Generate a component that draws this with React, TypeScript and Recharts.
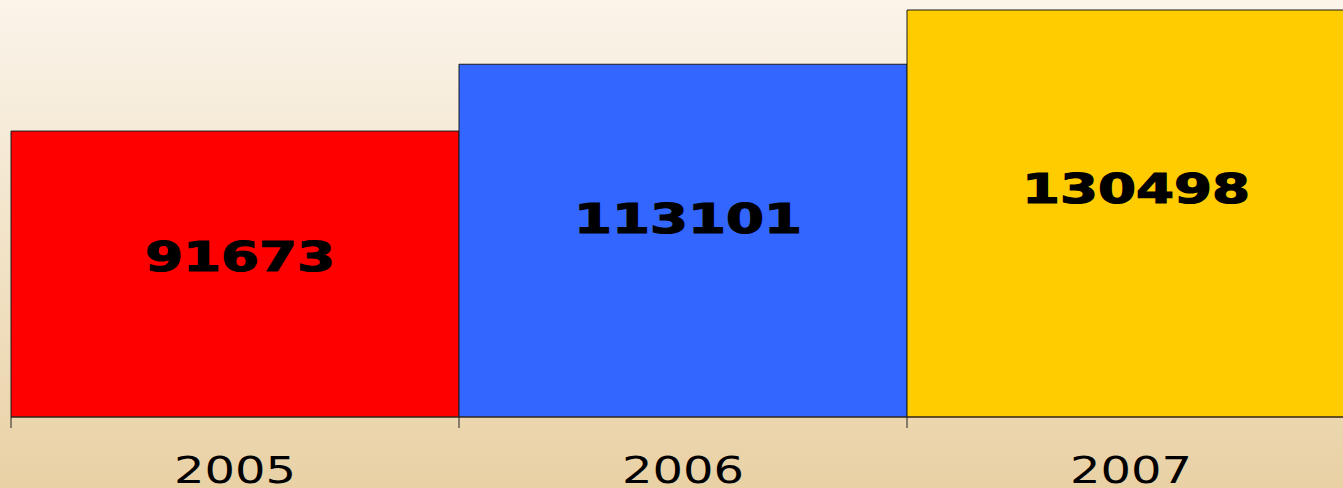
import { Bar, BarChart, Cell, LabelList, XAxis, YAxis } from "recharts";

const years = ["2005", "2006", "2007"];
const totals = [91673, 113101, 130498];
const barColors = ["#ff0000", "#3366ff", "#ffcc00"];

const data = years.map((year, i) => ({ year, total: totals[i] }));

// year label plus a tick mark on the left edge of each band
function YearTick({ x, y, payload, index, visibleTicksCount }: any) {
  const half = payload.offset ?? 0;
  return (
    <g>
      <line x1={x - half} x2={x - half} y1={y} y2={y + 11} stroke="#222" />
      {index === visibleTicksCount - 1 && (
        <line x1={x + half} x2={x + half} y1={y} y2={y + 11} stroke="#222" />
      )}
      <text
        x={x}
        y={y + 66}
        textAnchor="middle"
        fontFamily="DejaVu Sans"
        fontSize={37}
        fill="#000"
        textLength={122}
        lengthAdjust="spacingAndGlyphs"
      >
        {payload.value}
      </text>
    </g>
  );
}

function ValueLabel({ x, y, width, height, value }: any) {
  const text = String(value);
  return (
    <text
      x={x + width / 2 + 5}
      y={y + height * 0.44}
      textAnchor="middle"
      dominantBaseline="central"
      fontFamily="DejaVu Sans"
      fontWeight="bold"
      fontSize={40}
      fill="#000"
      stroke="#000"
      strokeWidth={1.2}
      textLength={text.length * 38}
      lengthAdjust="spacingAndGlyphs"
    >
      {text}
    </text>
  );
}

export default function App() {
  return (
    <div
      style={{
        position: "absolute",
        left: 0,
        top: 0,
        width: 1343,
        height: 488,
        overflow: "hidden",
        background: "linear-gradient(to bottom, #faf4ea 0%, #f2e3c8 50%, #e9d1a5 100%)",
      }}
    >
      <BarChart
        width={1360}
        height={488}
        data={data}
        barCategoryGap={0}
        margin={{ top: 10, right: 5, left: 11, bottom: 0 }}
      >
        <XAxis
          dataKey="year"
          height={71}
          tickSize={0}
          tickMargin={0}
          tickLine={false}
          axisLine={{ stroke: "#3a2a1a", strokeWidth: 1 }}
          tick={<YearTick />}
          interval={0}
        />
        <YAxis hide domain={[0, "dataMax"]} />
        <Bar dataKey="total" stroke="#1a1a1a" strokeWidth={1} isAnimationActive={false}>
          {data.map((d, i) => (
            <Cell key={d.year} fill={barColors[i]} />
          ))}
          <LabelList dataKey="total" content={<ValueLabel />} />
        </Bar>
      </BarChart>
    </div>
  );
}
